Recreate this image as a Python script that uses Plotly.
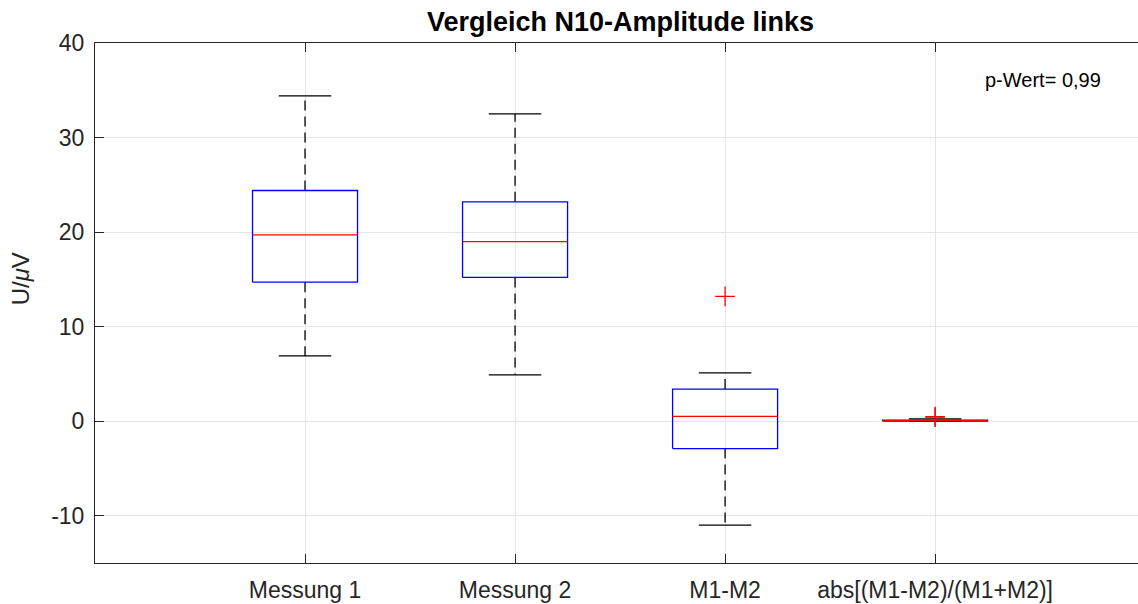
import plotly.graph_objects as go

# Boxplot statistics per group (U in µV)
categories = ["Messung 1", "Messung 2", "M1-M2", "abs[(M1-M2)/(M1+M2)]"]
q1 = [14.7, 15.2, -2.9, 0.02]
median = [19.7, 19.0, 0.5, 0.06]
q3 = [24.4, 23.2, 3.4, 0.12]
whisker_low = [6.9, 4.9, -11.0, 0.0]
whisker_high = [34.4, 32.5, 5.1, 0.25]
outliers = [[], [], [13.2], [0.42, 0.48]]

y_tick_vals = [-10, 0, 10, 20, 30, 40]
y_tick_text = ["-10", "0", "10", "20", "30", "40"]

title_text = "Vergleich N10-Amplitude links"
p_text = "p-Wert= 0,99"

BOX_HALF = 0.25
CAP_HALF = 0.125
FONT = "Liberation Sans, Arial, Helvetica, sans-serif"
AX_COLOR = "#262626"

positions = list(range(1, len(categories) + 1))

wx, wy, cx, cy, bx, by, mx, my, ox, oy = ([] for _ in range(10))
for i, p in enumerate(positions):
    # dashed whiskers from box edges to the caps
    wx += [p, p, None, p, p, None]
    wy += [q3[i], whisker_high[i], None, q1[i], whisker_low[i], None]
    # caps
    cx += [p - CAP_HALF, p + CAP_HALF, None, p - CAP_HALF, p + CAP_HALF, None]
    cy += [whisker_high[i], whisker_high[i], None, whisker_low[i], whisker_low[i], None]
    # box outline
    bx += [p - BOX_HALF, p + BOX_HALF, p + BOX_HALF, p - BOX_HALF, p - BOX_HALF, None]
    by += [q1[i], q1[i], q3[i], q3[i], q1[i], None]
    # median
    mx += [p - BOX_HALF, p + BOX_HALF, None]
    my += [median[i], median[i], None]
    for v in outliers[i]:
        ox.append(p)
        oy.append(v)

fig = go.Figure()
fig.add_trace(go.Scatter(x=wx, y=wy, mode="lines",
                         line=dict(color="black", width=1.3, dash="10px,6px"),
                         hoverinfo="skip"))
fig.add_trace(go.Scatter(x=cx, y=cy, mode="lines",
                         line=dict(color="black", width=1.3), hoverinfo="skip"))
fig.add_trace(go.Scatter(x=bx, y=by, mode="lines",
                         line=dict(color="#0000ff", width=1.3), hoverinfo="skip"))
fig.add_trace(go.Scatter(x=mx, y=my, mode="lines",
                         line=dict(color="#ff0000", width=1.3), hoverinfo="skip"))
fig.add_trace(go.Scatter(x=ox, y=oy, mode="markers",
                         marker=dict(symbol="cross-thin", size=14, color="#ff0000",
                                     line=dict(color="#ff0000", width=1.3)),
                         hoverinfo="skip"))

fig.update_layout(
    width=1138, height=604,
    margin=dict(l=95, r=0, t=43, b=41),
    plot_bgcolor="white", paper_bgcolor="white",
    showlegend=False,
    font=dict(family=FONT, color=AX_COLOR),
    xaxis=dict(
        range=[0, 4.966],
        tickvals=positions, ticktext=categories,
        ticks="inside", ticklen=9, tickcolor=AX_COLOR, tickwidth=1,
        showline=True, linecolor=AX_COLOR, linewidth=1, mirror="ticks",
        showgrid=True, gridcolor="#e6e6e6", gridwidth=1, zeroline=False,
        tickfont=dict(size=23, color=AX_COLOR, family=FONT),
        ticklabelstandoff=6,
    ),
    yaxis=dict(
        range=[-15, 40],
        tickvals=y_tick_vals, ticktext=y_tick_text,
        ticks="inside", ticklen=9, tickcolor=AX_COLOR, tickwidth=1,
        showline=True, linecolor=AX_COLOR, linewidth=1, mirror=False,
        showgrid=True, gridcolor="#e6e6e6", gridwidth=1, zeroline=False,
        tickfont=dict(size=23, color=AX_COLOR, family=FONT),
        ticklabelstandoff=5,
    ),
    annotations=[
        dict(text="<b>" + title_text + "</b>", x=2.5, xref="x",
             y=1 + 21 / 520, yref="paper", xanchor="center", yanchor="middle",
             showarrow=False, font=dict(size=27, color="black", family=FONT)),
        dict(text=p_text, x=4.514, xref="x", y=36.1, yref="y",
             xanchor="center", yanchor="middle", showarrow=False,
             font=dict(size=20, color="black", family=FONT)),
        dict(text="U/<i>μ</i>V", textangle=-90, x=-75 / 1043, xref="paper",
             y=15.0, yref="y", xanchor="center", yanchor="middle",
             showarrow=False, font=dict(size=24, color=AX_COLOR, family=FONT)),
    ],
)

fig.write_html("out.html")
